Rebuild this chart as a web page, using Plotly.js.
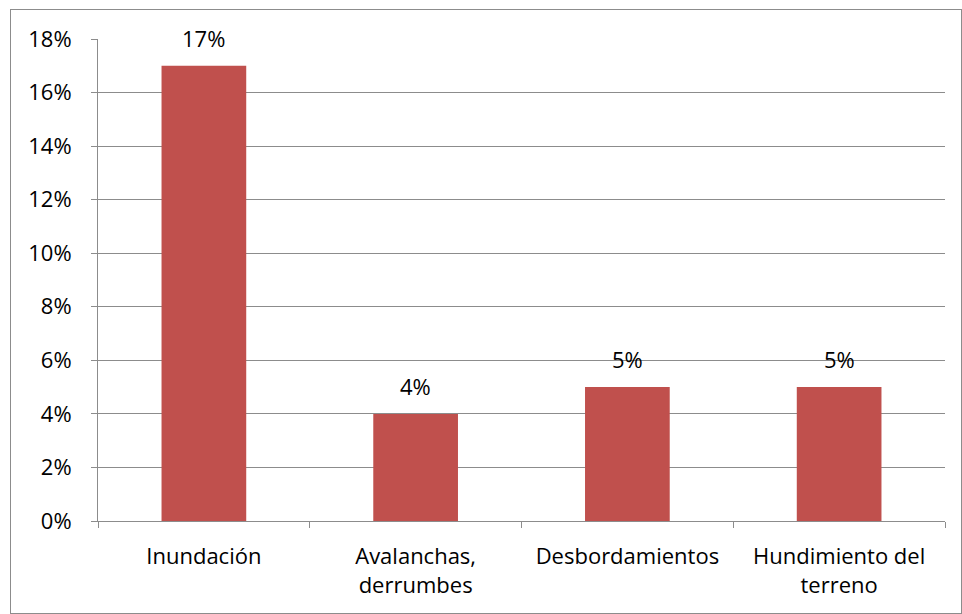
<!DOCTYPE html>
<html>
<head>
<meta charset="utf-8">
<script src="https://cdn.plot.ly/plotly-3.0.1.min.js"></script>
<style>
body{margin:0;padding:0;background:#fff;}
#wrap{position:relative;width:962px;height:614px;}
#chart{width:962px;height:614px;}
#frame{position:absolute;left:10px;top:9px;width:950px;height:603px;border:1px solid #8c8c8c;pointer-events:none;}
</style>
</head>
<body>
<div id="wrap"><div id="chart"></div><div id="frame"></div></div>
<script>
const categories = ["Inundación", "Avalanchas,<br>derrumbes", "Desbordamientos", "Hundimiento del<br>terreno"];
const values = [0.17, 0.04, 0.05, 0.05];
const labels = ["17%", "4%", "5%", "5%"];
const yTicks = [0, 0.02, 0.04, 0.06, 0.08, 0.10, 0.12, 0.14, 0.16, 0.18];
const yTickLabels = ["0%", "2%", "4%", "6%", "8%", "10%", "12%", "14%", "16%", "18%"];

const font = "'Open Sans', Carlito, Calibri, sans-serif";
const fs = 22;

const annotations = categories.map((c, i) => ({
  x: c, y: values[i], xref: "x", yref: "y",
  text: labels[i], showarrow: false,
  yanchor: "bottom", yshift: 11,
  font: {family: font, size: fs, color: "#000"}
}));

Plotly.newPlot("chart", [{
  type: "bar",
  x: categories,
  y: values,
  marker: {color: "#C0504D"},
  hoverinfo: "none"
}], {
  width: 962, height: 614,
  margin: {l: 98, r: 17, t: 39, b: 93},
  paper_bgcolor: "#fff", plot_bgcolor: "#fff",
  bargap: 0.6,
  showlegend: false,
  font: {family: font, size: fs, color: "#000"},
  annotations: annotations,
  xaxis: {
    type: "category",
    showline: true, linecolor: "#8c8c8c", linewidth: 1,
    ticks: "outside", tickson: "boundaries", ticklen: 6, tickcolor: "#8c8c8c",
    showgrid: false,
    tickfont: {family: font, size: fs, color: "#000"},
    ticklabelstandoff: 16
  },
  yaxis: {
    range: [0, 0.18],
    tickvals: yTicks, ticktext: yTickLabels,
    showline: true, linecolor: "#8c8c8c", linewidth: 1,
    ticks: "outside", ticklen: 6, tickcolor: "#8c8c8c",
    showgrid: true, gridcolor: "#8c8c8c", gridwidth: 1,
    zeroline: false,
    tickfont: {family: font, size: fs, color: "#000"},
    ticklabelstandoff: 15
  }
}, {displayModeBar: false, staticPlot: true});
</script>
</body>
</html>
